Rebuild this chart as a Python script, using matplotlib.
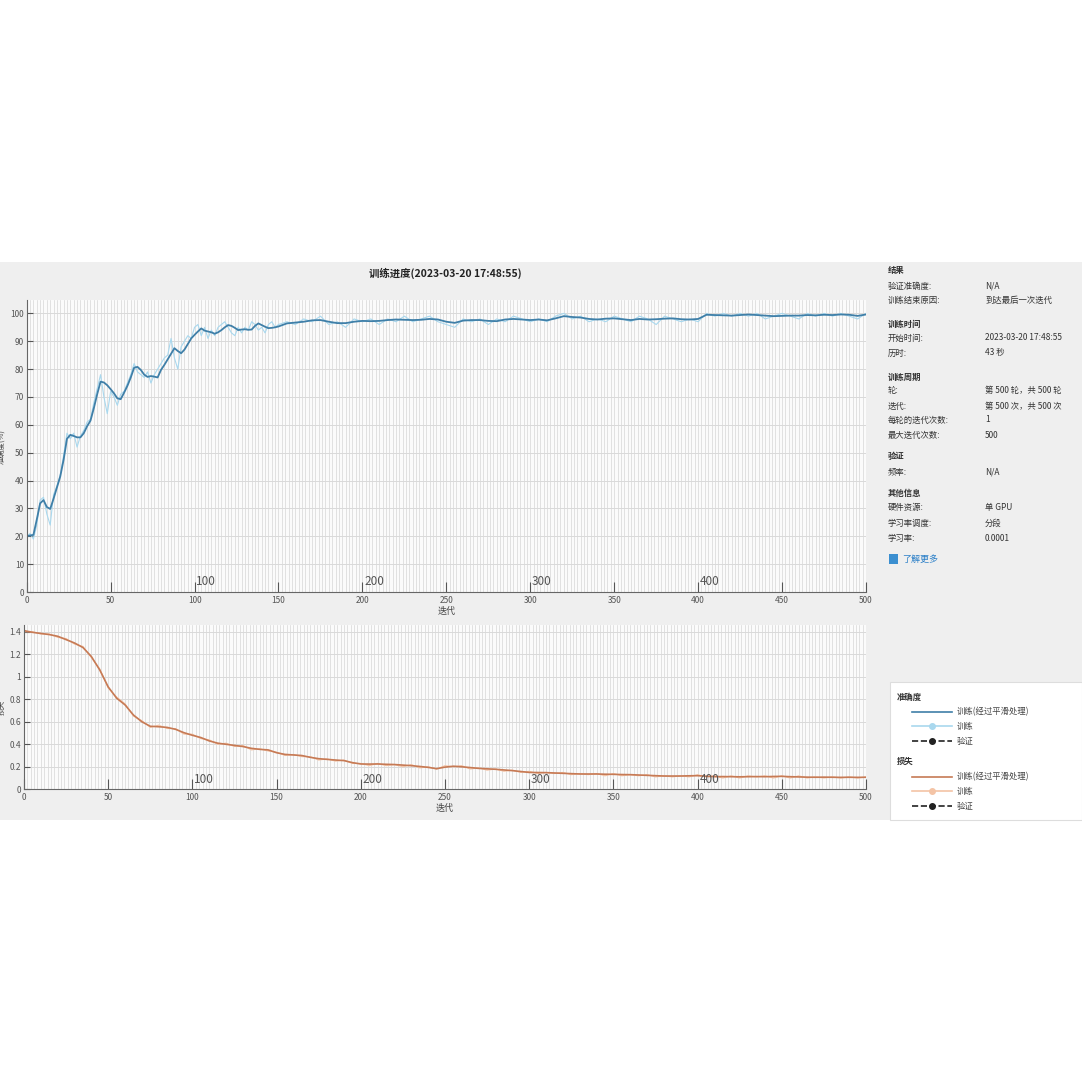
import numpy as np
import matplotlib
matplotlib.use("Agg")
import matplotlib.pyplot as plt
from matplotlib.patches import Rectangle
from matplotlib.lines import Line2D

plt.rcParams['font.family'] = ['Noto Sans CJK SC', 'DejaVu Sans']

# iterations: fine steps early on, coarser afterwards
acc_iter = np.concatenate([np.arange(0, 151, 2), np.arange(155, 501, 5)])

acc_smooth = [
    20, 20.3, 20.5, 26, 31.8, 33, 30.5, 29.8, 33.5, 37.5,
    41.5, 47.5, 55, 56.4, 56, 55.5, 55.5, 57, 59.5, 61.5,
    66, 71, 75.5, 75.2, 74.2, 72.8, 71.3, 69.5, 69.2, 71.5,
    74, 77, 80.5, 80.8, 79.7, 78, 77.2, 77.5, 77.3, 77,
    79.7, 81.5, 83.5, 85.5, 87.5, 86.5, 85.7, 87, 89, 91,
    92.3, 93.5, 94.6, 93.8, 93.5, 93.2, 92.7, 93.2, 94, 95,
    95.8, 95.5, 94.8, 94, 94.2, 94.3, 94.1, 94.2, 95.5, 96.4,
    95.8, 95.2, 94.7, 94.8, 95, 95.3,
    96.4, 96.7, 97, 97.5, 97.6, 97, 96.5, 96.5, 97, 97.3,
    97.2, 97.3, 97.6, 97.8, 97.7, 97.6, 97.7, 98, 97.8, 97,
    96.6, 97.4, 97.6, 97.6, 97.3, 97.2, 97.8, 98, 97.8, 97.6,
    97.8, 97.5, 98.2, 99, 98.7, 98.5, 98, 97.8, 98.1, 98.2,
    97.9, 97.6, 98, 97.8, 97.9, 98.1, 98.2, 97.9, 97.8, 98,
    99.5, 99.4, 99.3, 99.2, 99.4, 99.6, 99.4, 99.2, 99, 99.1,
    99.2, 99.2, 99.4, 99.3, 99.5, 99.4, 99.6, 99.5, 99.1, 99.6,
]

acc_raw = [
    20, 21, 19, 24, 33, 34, 28, 24, 35, 38,
    42, 49, 57, 55, 57, 52, 56, 58, 61, 62,
    68, 73, 78, 70, 64, 72, 70, 67, 71, 72,
    75, 78, 82, 79, 78, 77, 79, 75, 78, 80,
    82, 84, 85, 91, 84, 80, 88, 90, 92, 91,
    95, 96, 92, 95, 91, 94, 92, 95, 96, 97,
    95, 93, 92, 95, 93, 95, 94, 97, 96, 94,
    95, 93, 96, 97, 95, 96,
    97, 96, 98, 97, 99, 96, 97, 95, 98, 97,
    98, 96, 98, 97, 99, 97, 98, 99, 97, 96,
    95, 98, 97, 98, 96, 98, 97, 99, 98, 97,
    98, 97, 99, 100, 98, 99, 97, 98, 97, 99,
    98, 97, 99, 98, 96, 99, 98, 97, 98, 97,
    100, 99, 100, 99, 100, 99, 100, 98, 99, 100,
    99, 98, 100, 99, 100, 99, 100, 99, 98, 100,
]

loss_iter = np.arange(0, 501, 5)

loss_smooth = [
    1.41, 1.395, 1.385, 1.375, 1.36, 1.33, 1.30, 1.26, 1.18, 1.06,
    0.91, 0.81, 0.75, 0.66, 0.60, 0.56, 0.556, 0.55, 0.533, 0.503,
    0.48, 0.46, 0.43, 0.41, 0.40, 0.39, 0.38, 0.364, 0.355, 0.35,
    0.325, 0.31, 0.305, 0.30, 0.284, 0.272, 0.266, 0.26, 0.255, 0.237,
    0.225, 0.224, 0.225, 0.222, 0.22, 0.215, 0.21, 0.203, 0.195, 0.183,
    0.197, 0.205, 0.2, 0.193, 0.186, 0.182, 0.178, 0.172, 0.166, 0.158,
    0.15, 0.149, 0.148, 0.145, 0.142, 0.139, 0.136, 0.136, 0.136, 0.134,
    0.133, 0.131, 0.13, 0.127, 0.124, 0.121, 0.118, 0.118, 0.118, 0.12,
    0.121, 0.116, 0.112, 0.113, 0.112, 0.111, 0.112, 0.113, 0.112, 0.114,
    0.115, 0.112, 0.11, 0.108, 0.107, 0.108, 0.107, 0.106, 0.107, 0.106,
    0.107,
]

loss_raw = [
    1.40, 1.40, 1.38, 1.38, 1.35, 1.34, 1.29, 1.27, 1.17, 1.07,
    0.90, 0.82, 0.76, 0.65, 0.61, 0.55, 0.57, 0.54, 0.54, 0.49,
    0.49, 0.45, 0.44, 0.40, 0.41, 0.38, 0.39, 0.35, 0.36, 0.34,
    0.33, 0.30, 0.31, 0.29, 0.29, 0.26, 0.27, 0.25, 0.26, 0.23,
    0.23, 0.21, 0.23, 0.21, 0.22, 0.20, 0.22, 0.19, 0.20, 0.18,
    0.21, 0.20, 0.21, 0.18, 0.19, 0.17, 0.18, 0.16, 0.17, 0.15,
    0.16, 0.14, 0.15, 0.14, 0.15, 0.13, 0.14, 0.13, 0.14, 0.12,
    0.14, 0.12, 0.13, 0.12, 0.13, 0.11, 0.12, 0.11, 0.12, 0.11,
    0.13, 0.11, 0.12, 0.10, 0.12, 0.10, 0.12, 0.11, 0.12, 0.10,
    0.12, 0.10, 0.12, 0.10, 0.11, 0.10, 0.11, 0.10, 0.11, 0.10,
    0.11,
]

epoch_marks = [100, 200, 300, 400]

info_rows = [
    ('结果', None, True),
    ('验证准确度:', 'N/A', False),
    ('训练结束原因:', '到达最后一次迭代', False),
    ('训练时间', None, True),
    ('开始时间:', '2023-03-20 17:48:55', False),
    ('历时:', '43 秒', False),
    ('训练周期', None, True),
    ('轮:', '第 500 轮，共 500 轮', False),
    ('迭代:', '第 500 次，共 500 次', False),
    ('每轮的迭代次数:', '1', False),
    ('最大迭代次数:', '500', False),
    ('验证', None, True),
    ('频率:', 'N/A', False),
    ('其他信息', None, True),
    ('硬件资源:', '单 GPU', False),
    ('学习率调度:', '分段', False),
    ('学习率:', '0.0001', False),
]
info_y = [270, 286, 300, 324, 338, 353, 377, 391, 406, 420, 435, 457, 472, 493, 508, 523, 538]

W = 1082.0
def fx(px):
    return px / W
def fy(py):
    return 1 - py / W

fig = plt.figure(figsize=(10.82, 10.82), dpi=100)
fig.patch.set_facecolor('white')
fig.add_artist(Rectangle((0, fy(820)), 1, (820 - 262) / W, transform=fig.transFigure,
                         facecolor='#efefef', edgecolor='none', zorder=0))

c_acc, c_acc_raw = '#3f7fa8', '#a9d8ee'
c_loss, c_loss_raw = '#c67a55', '#f4c4a6'
tick_c = '#555555'


def style_axes(ax, left_px, ylim, yticks, ylab, mark_off):
    ax.set_facecolor('#fbfbfb')
    ax.set_xlim(0, 500)
    ax.set_ylim(*ylim)
    ax.set_xticks(np.arange(0, 501, 50))
    ax.set_xticks(np.arange(0, 501, 2), minor=True)
    ax.set_yticks(yticks)
    ax.grid(which='minor', axis='x', color='#d6d6d6', lw=0.5)
    ax.grid(which='major', axis='x', color='#d6d6d6', lw=0.5)
    ax.grid(which='major', axis='y', color='#d9d9d9', lw=0.7)
    ax.set_axisbelow(True)
    for s in ['top', 'right']:
        ax.spines[s].set_visible(False)
    for s in ['left', 'bottom']:
        ax.spines[s].set_color('#666666')
        ax.spines[s].set_linewidth(0.8)
    ax.tick_params(axis='x', which='major', direction='in', length=7, width=0.8,
                   colors=tick_c, labelsize=6, pad=3)
    ax.tick_params(axis='x', which='minor', length=0)
    ax.tick_params(axis='y', direction='in', length=4, width=0.8,
                   colors=tick_c, labelsize=6, pad=2)
    ax.set_xlabel('迭代', fontsize=6.5, color='#444444', labelpad=1)
    ax.set_ylabel(ylab, fontsize=5.5, color='#444444')
    # put the y label right at the left edge of the picture, as in the original
    axw = ax.get_position().width * W
    ax.yaxis.set_label_coords((6 - left_px) / axw, 0.5)
    tr = ax.get_xaxis_transform()
    for e in epoch_marks:
        ax.text(e + 1, mark_off, str(e), transform=tr, fontsize=8.5,
                color='#555555', ha='left', va='bottom')


ax1 = fig.add_axes([fx(26.7), fy(592), (866 - 26.7) / W, (592 - 300) / W])
style_axes(ax1, 26.7, (0, 104.8), np.arange(0, 101, 10), '准确度(%)', 0.015)
ax1.plot(acc_iter, acc_raw, color=c_acc_raw, lw=0.8)
ax1.plot(acc_iter, acc_smooth, color=c_acc, lw=1.3)

ax2 = fig.add_axes([fx(24), fy(789.3), (866 - 24) / W, (789.3 - 625) / W])
style_axes(ax2, 24, (0, 1.46), [0, 0.2, 0.4, 0.6, 0.8, 1, 1.2, 1.4], '损失', 0.02)
ax2.set_yticklabels(['0', '0.2', '0.4', '0.6', '0.8', '1', '1.2', '1.4'])
ax2.plot(loss_iter, loss_raw, color=c_loss_raw, lw=0.8)
ax2.plot(loss_iter, loss_smooth, color=c_loss, lw=1.2)

fig.text(fx(445), fy(273), '训练进度(2023-03-20 17:48:55)', fontsize=7.5,
         fontweight='bold', color='#222222', ha='center', va='center')

# info panel
for (lab, val, bold), y in zip(info_rows, info_y):
    fig.text(fx(888), fy(y), lab, fontsize=6, color='#333333', va='center',
             fontweight='bold' if bold else 'normal')
    if val is not None:
        fig.text(fx(985), fy(y), val, fontsize=6, color='#333333', va='center')
fig.add_artist(Rectangle((fx(889), fy(564)), 9 / W, 10 / W, transform=fig.transFigure,
                         facecolor='#3b8fd0', edgecolor='none'))
fig.text(fx(902), fy(559), '了解更多', fontsize=6.5, color='#2a7fc8', va='center')

# legend box
fig.add_artist(Rectangle((fx(890), fy(820)), (1082 - 890) / W, (820 - 682) / W,
                         transform=fig.transFigure, facecolor='white',
                         edgecolor='#dddddd', lw=0.8))
legend_groups = [
    ('准确度', 697, [(712, c_acc, '-', None, '训练(经过平滑处理)'),
                    (726, c_acc_raw, '-', 'o', '训练'),
                    (741, '#222222', '--', 'o', '验证')]),
    ('损失', 761, [(777, c_loss, '-', None, '训练(经过平滑处理)'),
                  (791, c_loss_raw, '-', 'o', '训练'),
                  (806, '#222222', '--', 'o', '验证')]),
]
for head, hy, rows in legend_groups:
    fig.text(fx(897), fy(hy), head, fontsize=6, fontweight='bold', color='#333333', va='center')
    for y, col, ls, mk, lab in rows:
        fig.add_artist(Line2D([fx(912), fx(952)], [fy(y), fy(y)], transform=fig.transFigure,
                              color=col, ls=ls, lw=1.2))
        if mk:
            fig.add_artist(Line2D([fx(932)], [fy(y)], transform=fig.transFigure,
                                  color=col, marker=mk, markersize=4, ls='none'))
        fig.text(fx(957), fy(y), lab, fontsize=6, color='#444444', va='center')

fig.savefig('out.png', dpi=100, facecolor='white')
plt.close(fig)
